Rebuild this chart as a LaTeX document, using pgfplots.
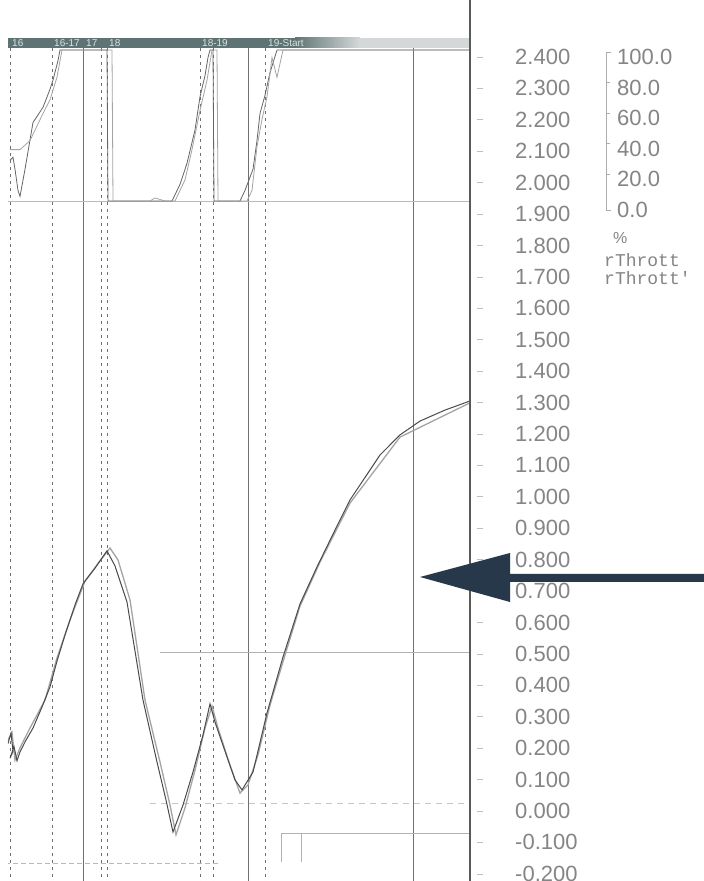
\documentclass[border=0pt]{standalone}
\usepackage{fontspec}
\setmainfont{Liberation Sans}
\newfontfamily\monofont{Liberation Mono}
\usepackage{pgfplots}
\pgfplotsset{compat=1.18}
\definecolor{lbl}{HTML}{858585}
\definecolor{bardark}{HTML}{5E7474}
\definecolor{barlight}{HTML}{D4D8D8}
\definecolor{arrowc}{HTML}{26384A}
\definecolor{traceA}{HTML}{4A4A4A}
\definecolor{traceB}{HTML}{A4A4A4}
\definecolor{vline}{HTML}{707070}
\begin{document}
\begin{tikzpicture}
\useasboundingbox (0pt,0pt) rectangle (704pt,881pt);
\clip (0pt,0pt) rectangle (704pt,881pt);
\fill[white] (0pt,0pt) rectangle (704pt,881pt);

% background lines (lap markers, cursors)
\begin{scope}[shift={(0pt,881pt)},x=1pt,y=-1pt]
\foreach \xx in {83,248,413}{\draw[vline,line width=0.9pt] (\xx,48) -- (\xx,881);}
\foreach \xx in {10,52,101,107,200,213,265}{\draw[vline,line width=0.9pt,dash pattern=on 3pt off 4pt] (\xx,48) -- (\xx,881);}
\end{scope}

% throttle axis (%)
\begin{axis}[at={(8pt,0pt)},anchor=south west,scale only axis,width=462pt,height=843pt,
  xmin=8,xmax=470,ymin=-450.33,ymax=107.95,axis lines=none,clip=true]
\addplot[gray!55,line width=0.6pt] coordinates {(8,0) (470,0)};
\addplot[traceA!85,line width=0.8pt] coordinates {(10,27)(13,29)(15,21)(18,7)(20,3)(25,21)(33,52)(43,62)(50,74)(53,80)(58,93)(60,100)(107,100)(108,0)(172,0)(180,11)(187,25)(195,47)(200,69)(205,83)(208,95)(210,100)(213,100)(214,0)(240,0)(245,7)(253,21)(257,40)(260,58)(265,70)(270,85)(277,100)(470,100)};
\addplot[traceB,line width=0.8pt] coordinates {(10,34)(20,34)(30,40)(43,58)(50,67)(57,82)(62,100)(112,100)(113,0)(150,0)(155,2)(160,1)(165,0)(175,0)(185,14)(192,34)(200,60)(207,80)(212,100)(217,100)(218,0)(247,0)(252,7)(257,36)(262,54)(267,69)(272,95)(277,82)(283,100)(470,100)};
\end{axis}

% main axis
\begin{axis}[at={(8pt,0pt)},anchor=south west,scale only axis,width=462pt,height=843pt,
  xmin=8,xmax=470,ymin=-0.2228,ymax=2.4602,
  axis line style={draw=none},xtick=\empty,
  ytick={-0.2,-0.1,0,0.1,0.2,0.3,0.4,0.5,0.6,0.7,0.8,0.9,1.0,1.1,1.2,1.3,1.4,1.5,1.6,1.7,1.8,1.9,2.0,2.1,2.2,2.3,2.4},
  yticklabels={-0.200,-0.100,0.000,0.100,0.200,0.300,0.400,0.500,0.600,0.700,0.800,0.900,1.000,1.100,1.200,1.300,1.400,1.500,1.600,1.700,1.800,1.900,2.000,2.100,2.200,2.300,2.400},
  ytick pos=right,yticklabel pos=right,tick align=outside,major tick length=6pt,
  ytick style={draw=gray!50,line width=0.6pt,xshift=7pt},
  yticklabel style={font=\fontsize{22}{22}\selectfont,text=lbl,anchor=west,inner sep=0pt,xshift=39pt},
  clip=true]
% other channels
\addplot[gray!60,line width=0.7pt] coordinates {(160,0.506) (470,0.506)};
\addplot[gray!45,line width=0.6pt,dash pattern=on 6pt off 5pt] coordinates {(150,0.025) (470,0.025)};
\addplot[gray!60,line width=0.8pt] coordinates {(281,-0.162) (281,-0.070) (470,-0.070)};
\addplot[gray!60,line width=0.8pt] coordinates {(301,-0.070) (301,-0.162)};
\addplot[gray!55,line width=0.6pt,dash pattern=on 5pt off 3pt] coordinates {(5,-0.166) (220,-0.166)};
% main traces
\addplot[traceB,line width=1.3pt] coordinates {(8,0.226)(12,0.250)(15,0.162)(20,0.201)(30,0.264)(45,0.353)(57,0.487)(70,0.608)(85,0.732)(100,0.796)(110,0.837)(118,0.799)(130,0.672)(145,0.353)(160,0.156)(170,0.019)(176,-0.076)(185,0.010)(195,0.130)(205,0.264)(212,0.334)(218,0.264)(230,0.146)(240,0.057)(248,0.083)(258,0.178)(270,0.337)(285,0.496)(300,0.652)(320,0.792)(350,0.980)(400,1.190)(470,1.299)};
\addplot[traceA,line width=1.0pt] coordinates {(8,0.215)(11,0.248)(13,0.190)(10,0.168)(14,0.205)(17,0.160)(20,0.188)(25,0.220)(33,0.264)(42,0.331)(50,0.395)(57,0.477)(65,0.560)(75,0.656)(83,0.723)(95,0.773)(107,0.828)(115,0.780)(127,0.665)(143,0.353)(157,0.156)(166,0.035)(173,-0.067)(183,0.019)(193,0.124)(203,0.242)(210,0.341)(215,0.283)(227,0.172)(235,0.099)(242,0.067)(253,0.124)(267,0.312)(283,0.490)(300,0.659)(317,0.777)(335,0.894)(350,0.990)(380,1.133)(400,1.197)(420,1.241)(445,1.276)(470,1.305)};
\end{axis}

\begin{scope}[shift={(0pt,881pt)},x=1pt,y=-1pt]
% top lap bar
\fill[bardark] (8,38) rectangle (296,48);
\shade[left color=bardark,right color=barlight] (295,38) rectangle (360,48);
\fill[barlight] (359,38) rectangle (470,48);
\foreach \xx/\tt in {12/16,54/16-17,86/17,109/18,202/18-19,268/19-Start}{
  \node[anchor=west,inner sep=0pt,text=white!88!black,font=\fontsize{10}{10}\selectfont] at (\xx,43.5) {\tt};}
% right border
\draw[line width=2.2pt,black!65] (470,0) -- (470,881);
% secondary scale
\draw[gray!65,line width=0.6pt] (611,52) -- (606,52) -- (606,210) -- (611,210);
\foreach \yy in {82.6,113.2,143.8,174.4}{\draw[gray!65,line width=0.6pt] (606,\yy) -- (610,\yy);}
\foreach \yy/\tt in {57/100.0,87.6/80.0,118.2/60.0,148.8/40.0,179.4/20.0,210/0.0}{
  \node[anchor=west,inner sep=0pt,text=lbl,font=\fontsize{22}{22}\selectfont] at (617,\yy) {\tt};}
\node[anchor=west,inner sep=0pt,text=lbl,font=\fontsize{16}{16}\selectfont] at (613,238) {\%};
\node[anchor=west,inner sep=0pt,text=lbl,font=\monofont\fontsize{18}{18}\selectfont] at (604,260) {rThrott};
\node[anchor=west,inner sep=0pt,text=lbl,font=\monofont\fontsize{18}{18}\selectfont] at (604,278) {rThrott'};
% arrow
\fill[arrowc] (420,577) -- (510,553) -- (510,574) -- (704,574) -- (704,582) -- (510,582) -- (510,602) -- cycle;
\end{scope}
\end{tikzpicture}
\end{document}
